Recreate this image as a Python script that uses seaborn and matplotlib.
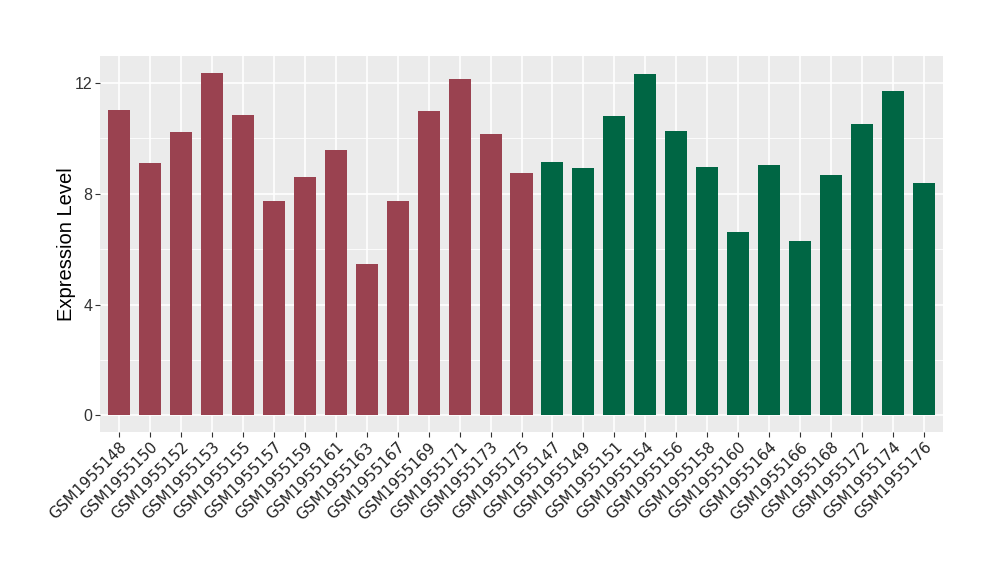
import matplotlib
matplotlib.use("Agg")
import matplotlib.pyplot as plt
import seaborn as sns
import pandas as pd
from matplotlib.ticker import MultipleLocator

samples = ["GSM1955148", "GSM1955150", "GSM1955152", "GSM1955153", "GSM1955155",
           "GSM1955157", "GSM1955159", "GSM1955161", "GSM1955163", "GSM1955167",
           "GSM1955169", "GSM1955171", "GSM1955173", "GSM1955175",
           "GSM1955147", "GSM1955149", "GSM1955151", "GSM1955154", "GSM1955156",
           "GSM1955158", "GSM1955160", "GSM1955164", "GSM1955166", "GSM1955168",
           "GSM1955172", "GSM1955174", "GSM1955176"]
values = [11.01, 9.10, 10.22, 12.35, 10.83, 7.73, 8.60, 9.57, 5.45, 7.73,
          10.98, 12.13, 10.15, 8.74,
          9.14, 8.92, 10.80, 12.32, 10.26, 8.96, 6.61, 9.03, 6.28, 8.67,
          10.51, 11.70, 8.38]
groups = ["A"] * 14 + ["B"] * 13
palette = {"A": "#9A4250", "B": "#006644"}

df = pd.DataFrame({"sample": samples, "value": values, "group": groups})

sns.set_theme(style="darkgrid")
plt.rcParams["font.family"] = ["Liberation Sans", "DejaVu Sans"]

fig = plt.figure(figsize=(10, 5.8), dpi=100)
ax = fig.add_axes([0.100, 0.2552, 0.843, 0.6482])
ax.set_facecolor("#EBEBEB")

sns.barplot(data=df, x="sample", y="value", hue="group", palette=palette,
            dodge=False, width=0.71, legend=False, ax=ax, saturation=1,
            order=samples, linewidth=0, edgecolor="none")

ax.set_xlim(-0.6, 26.6)
ax.set_ylim(-0.6, 12.97)
ax.yaxis.set_major_locator(MultipleLocator(4))
ax.yaxis.set_minor_locator(MultipleLocator(2))
ax.grid(which="major", color="white", linewidth=1.2)
ax.grid(which="minor", axis="y", color="white", linewidth=0.6)
ax.set_axisbelow(True)
for s in ax.spines.values():
    s.set_visible(False)

ax.tick_params(axis="both", which="major", length=3.5, width=0.8, color="#333333",
               bottom=True, left=True)
ax.tick_params(axis="y", which="minor", length=0)
ax.tick_params(axis="y", labelsize=11.5, labelcolor="#333333", pad=2)
ax.set_xticks(range(len(samples)))
ax.set_xticklabels(samples, rotation=45, ha="right", rotation_mode="anchor",
                   fontsize=11, color="#222222")
for lab in ax.get_xticklabels():
    lab.set_fontfamily("DejaVu Sans")
ax.tick_params(axis="x", pad=2)

ax.set_xlabel("")
ax.set_ylabel("Expression Level", fontsize=14.5, color="black", labelpad=-1)

fig.savefig("out.png", dpi=100, facecolor="white")
